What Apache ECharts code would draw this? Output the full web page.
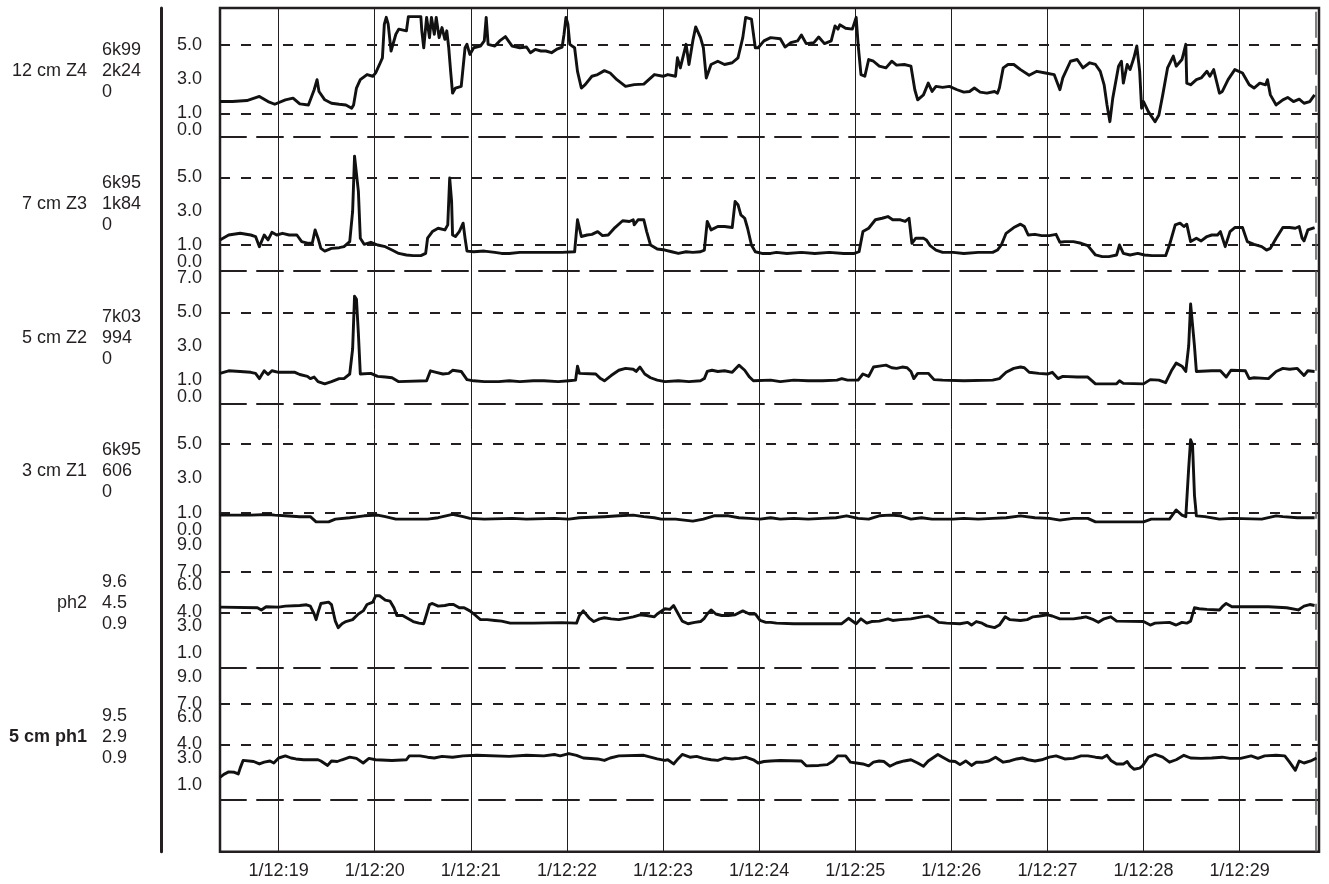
<!DOCTYPE html>
<html>
<head>
<meta charset="utf-8">
<script src="https://cdn.jsdelivr.net/npm/echarts@6/dist/echarts.min.js"></script>
<style>html,body{margin:0;padding:0;background:#fff}#chart{width:1329px;height:884px}</style>
</head>
<body>
<div id="chart"></div>
<script>
// ---------- DATA ----------
const timeTicks = [19, 20, 21, 22, 23, 24, 25, 26, 27, 28, 29];
const timeStart = 18.39, timeEnd = 29.826, recordEnd = 29.79;

const panelNames = ['12 cm Z4', '7 cm Z3', '5 cm Z2', '3 cm Z1', 'ph2', '5 cm ph1'];
const panelStats = [['6k99', '2k24', '0'], ['6k95', '1k84', '0'], ['7k03', '994', '0'],
                    ['6k95', '606', '0'], ['9.6', '4.5', '0.9'], ['9.5', '2.9', '0.9']];

const zTickLabels = [5, 3, 1, 0];
const z2TickLabels = [7, 5, 3, 1, 0];
const phTickLabels = [9, 7, 6, 4, 3, 1];
const zRefLines = [5, 1];
const z2RefLines = [5];
const phRefLines = [7, 4];

const z4Trace = [[18.39,1.69],[18.52,1.69],[18.67,1.75],[18.80,1.99],[18.89,1.69],[18.96,1.53],[19.07,1.79],[19.15,1.89],[19.22,1.55],[19.31,1.49],[19.37,2.38],[19.40,2.97],[19.42,2.28],[19.48,1.79],[19.55,1.59],[19.63,1.53],[19.70,1.49],[19.76,1.30],[19.78,1.49],[19.81,2.48],[19.85,2.97],[19.92,3.27],[19.98,3.17],[20.01,3.37],[20.05,3.86],[20.08,4.25],[20.10,6.22],[20.12,6.62],[20.14,6.22],[20.17,4.65],[20.22,5.63],[20.25,5.93],[20.33,5.83],[20.35,6.66],[20.48,6.66],[20.49,5.83],[20.51,4.84],[20.54,6.62],[20.57,5.43],[20.59,6.62],[20.62,5.63],[20.64,6.62],[20.67,5.43],[20.70,6.02],[20.73,5.33],[20.75,5.83],[20.77,4.84],[20.79,3.46],[20.81,2.18],[20.84,2.48],[20.90,2.58],[20.94,4.84],[20.96,5.04],[20.99,4.45],[21.03,4.84],[21.10,4.94],[21.14,5.24],[21.16,6.62],[21.18,5.04],[21.25,4.94],[21.30,5.24],[21.36,5.49],[21.43,4.94],[21.51,4.84],[21.58,4.88],[21.62,4.55],[21.67,4.74],[21.73,4.65],[21.78,4.65],[21.84,4.55],[21.89,4.74],[21.95,4.88],[21.97,5.63],[21.99,6.62],[22.01,6.22],[22.03,5.04],[22.08,4.84],[22.11,3.46],[22.15,2.48],[22.19,2.68],[22.26,3.17],[22.32,3.27],[22.39,3.50],[22.45,3.36],[22.52,2.97],[22.61,2.58],[22.70,2.68],[22.80,2.71],[22.91,3.27],[23.00,3.17],[23.05,3.27],[23.13,3.17],[23.15,4.25],[23.18,3.66],[23.24,5.04],[23.27,3.86],[23.31,5.24],[23.34,6.06],[23.39,5.43],[23.42,4.84],[23.45,3.07],[23.50,3.86],[23.57,4.05],[23.64,3.86],[23.72,3.96],[23.78,4.25],[23.83,5.43],[23.86,6.62],[23.92,6.52],[23.96,4.84],[23.99,4.84],[24.05,5.24],[24.12,5.43],[24.14,5.43],[24.22,5.37],[24.27,4.88],[24.33,5.14],[24.40,5.24],[24.44,5.59],[24.49,5.08],[24.57,5.14],[24.62,5.47],[24.68,5.08],[24.75,5.24],[24.79,6.12],[24.82,5.93],[24.84,6.18],[24.90,5.98],[24.97,5.93],[25.01,6.62],[25.03,5.04],[25.06,3.27],[25.10,3.17],[25.14,4.15],[25.19,4.05],[25.25,3.76],[25.32,3.66],[25.38,4.05],[25.43,3.82],[25.51,3.86],[25.58,3.76],[25.62,2.38],[25.65,1.79],[25.71,2.08],[25.76,2.77],[25.80,2.28],[25.84,2.58],[25.91,2.52],[25.98,2.58],[26.06,2.38],[26.13,2.24],[26.19,2.28],[26.24,2.48],[26.30,2.24],[26.37,2.18],[26.45,2.28],[26.48,2.18],[26.50,2.48],[26.54,3.66],[26.59,3.86],[26.65,3.86],[26.72,3.56],[26.81,3.23],[26.89,3.46],[26.98,3.36],[27.07,3.27],[27.13,2.38],[27.16,3.07],[27.24,4.05],[27.31,4.15],[27.37,3.66],[27.44,3.96],[27.50,3.86],[27.55,3.46],[27.59,2.67],[27.62,1.49],[27.65,0.51],[27.68,1.89],[27.74,3.76],[27.77,4.05],[27.79,2.77],[27.83,3.86],[27.86,3.56],[27.90,4.25],[27.93,4.94],[27.96,3.46],[27.98,1.30],[28.00,1.69],[28.05,1.10],[28.12,0.51],[28.16,0.90],[28.20,2.08],[28.25,3.66],[28.31,4.35],[28.34,3.76],[28.40,4.15],[28.44,5.04],[28.45,2.77],[28.49,2.67],[28.55,2.97],[28.60,3.07],[28.66,3.46],[28.69,3.17],[28.73,3.56],[28.79,2.18],[28.82,2.28],[28.88,2.97],[28.95,3.56],[29.03,3.36],[29.10,2.67],[29.15,2.48],[29.21,2.77],[29.27,2.67],[29.29,2.97],[29.32,2.08],[29.38,1.49],[29.45,1.79],[29.50,1.93],[29.56,1.69],[29.62,1.83],[29.67,1.59],[29.73,1.69],[29.78,2.08]];

const z3Trace = [[18.39,1.30],[18.48,1.59],[18.60,1.69],[18.71,1.59],[18.76,1.50],[18.80,0.90],[18.85,1.59],[18.89,1.30],[18.93,1.75],[18.98,1.59],[19.04,1.69],[19.11,1.59],[19.19,1.59],[19.24,1.20],[19.31,1.10],[19.35,1.10],[19.38,1.89],[19.41,1.40],[19.44,0.80],[19.48,0.64],[19.55,0.80],[19.63,0.84],[19.68,0.90],[19.74,1.20],[19.77,2.98],[19.79,6.25],[19.81,6.35],[19.83,4.17],[19.85,1.40],[19.89,1.04],[19.96,1.16],[20.03,1.00],[20.11,0.90],[20.18,0.70],[20.25,0.50],[20.33,0.41],[20.40,0.37],[20.48,0.37],[20.53,0.50],[20.55,1.40],[20.60,1.79],[20.66,1.99],[20.73,1.89],[20.76,2.19],[20.78,4.96],[20.80,3.57],[20.81,1.59],[20.84,1.50],[20.88,1.79],[20.92,2.29],[20.94,1.40],[20.96,0.64],[21.03,0.60],[21.14,0.64],[21.25,0.56],[21.32,0.50],[21.40,0.50],[21.51,0.56],[21.65,0.56],[21.80,0.56],[21.95,0.56],[22.08,0.60],[22.11,2.49],[22.15,1.50],[22.21,1.59],[22.26,1.63],[22.32,1.79],[22.37,1.55],[22.43,1.59],[22.50,2.03],[22.58,2.43],[22.65,2.39],[22.69,2.49],[22.70,2.19],[22.74,2.49],[22.80,2.49],[22.83,1.79],[22.87,1.00],[22.94,0.76],[23.02,0.70],[23.09,0.60],[23.16,0.50],[23.24,0.60],[23.31,0.56],[23.39,0.60],[23.43,0.70],[23.46,2.39],[23.50,1.89],[23.57,2.09],[23.64,2.09],[23.72,2.03],[23.75,3.57],[23.78,3.38],[23.81,2.78],[23.85,2.58],[23.88,1.99],[23.92,1.00],[23.96,0.60],[24.03,0.50],[24.12,0.50],[24.18,0.56],[24.29,0.50],[24.44,0.56],[24.58,0.50],[24.73,0.56],[24.88,0.50],[24.99,0.50],[25.04,0.60],[25.08,1.79],[25.14,1.99],[25.21,2.49],[25.28,2.58],[25.34,2.68],[25.39,2.49],[25.47,2.49],[25.52,2.39],[25.56,2.58],[25.59,1.10],[25.63,1.40],[25.71,1.40],[25.74,1.30],[25.78,0.96],[25.84,0.70],[25.91,0.56],[26.02,0.56],[26.13,0.50],[26.28,0.56],[26.43,0.56],[26.48,0.70],[26.52,1.00],[26.57,1.69],[26.65,2.03],[26.72,2.23],[26.76,2.09],[26.80,1.59],[26.87,1.63],[26.94,1.55],[27.02,1.55],[27.09,1.63],[27.13,1.16],[27.18,1.20],[27.27,1.20],[27.35,1.10],[27.42,0.96],[27.50,0.41],[27.57,0.31],[27.64,0.31],[27.72,0.41],[27.75,1.00],[27.79,0.50],[27.86,0.41],[27.94,0.50],[28.01,0.41],[28.09,0.37],[28.23,0.37],[28.27,1.00],[28.33,2.19],[28.38,2.29],[28.42,2.09],[28.45,2.23],[28.49,1.20],[28.55,1.40],[28.60,1.24],[28.66,1.50],[28.71,1.59],[28.77,1.59],[28.80,1.79],[28.85,0.90],[28.90,1.79],[28.95,2.03],[29.03,2.03],[29.08,1.20],[29.15,1.04],[29.23,0.90],[29.28,0.70],[29.32,0.80],[29.38,1.40],[29.45,2.03],[29.52,2.03],[29.58,1.99],[29.62,2.09],[29.65,1.40],[29.67,1.24],[29.71,1.89],[29.78,2.03]];

const z2Trace = [[18.39,1.41],[18.48,1.56],[18.60,1.52],[18.71,1.47],[18.76,1.41],[18.80,1.10],[18.85,1.56],[18.89,1.34],[18.93,1.56],[19.00,1.47],[19.17,1.47],[19.22,1.34],[19.30,1.23],[19.33,1.10],[19.37,1.19],[19.41,0.92],[19.48,0.79],[19.55,0.92],[19.63,1.10],[19.68,1.10],[19.74,1.37],[19.77,2.84],[19.79,5.95],[19.81,5.77],[19.83,3.75],[19.85,1.37],[19.96,1.41],[20.03,1.23],[20.11,1.19],[20.18,1.15],[20.25,0.92],[20.54,0.97],[20.58,1.56],[20.64,1.47],[20.71,1.37],[20.77,1.41],[20.81,1.59],[20.90,1.52],[20.92,1.41],[20.96,1.04],[21.03,0.97],[21.14,0.92],[21.29,0.92],[21.40,0.97],[21.51,0.92],[21.65,0.97],[21.76,0.97],[21.91,0.92],[22.02,0.97],[22.09,1.01],[22.11,1.83],[22.13,1.41],[22.30,1.37],[22.35,1.10],[22.39,0.97],[22.46,1.28],[22.54,1.59],[22.61,1.70],[22.69,1.65],[22.72,1.52],[22.76,1.78],[22.81,1.37],[22.87,1.15],[22.94,1.01],[23.02,0.92],[23.16,0.97],[23.27,0.92],[23.39,0.97],[23.43,1.10],[23.46,1.52],[23.51,1.59],[23.57,1.52],[23.64,1.56],[23.72,1.47],[23.79,1.89],[23.85,1.59],[23.90,1.19],[23.94,0.97],[24.12,1.01],[24.22,0.92],[24.36,1.01],[24.51,0.97],[24.66,0.97],[24.81,1.01],[24.86,1.10],[24.92,1.01],[25.03,1.01],[25.08,1.37],[25.14,1.23],[25.19,1.78],[25.25,1.83],[25.32,1.89],[25.38,1.74],[25.43,1.70],[25.49,1.78],[25.54,1.74],[25.58,1.52],[25.61,1.10],[25.65,1.41],[25.76,1.41],[25.82,1.04],[25.91,1.01],[26.13,0.97],[26.43,1.01],[26.50,1.10],[26.57,1.47],[26.65,1.70],[26.72,1.78],[26.76,1.74],[26.81,1.47],[26.91,1.41],[27.00,1.37],[27.05,1.47],[27.11,1.10],[27.16,1.23],[27.31,1.19],[27.42,1.19],[27.50,0.79],[27.72,0.79],[27.75,0.97],[27.79,0.82],[28.00,0.79],[28.07,1.04],[28.16,1.01],[28.23,0.86],[28.29,1.56],[28.34,2.01],[28.40,1.83],[28.44,1.52],[28.47,3.02],[28.49,5.49],[28.51,5.40],[28.53,3.02],[28.55,1.52],[28.71,1.56],[28.80,1.56],[28.86,1.19],[28.91,1.59],[29.06,1.56],[29.10,1.10],[29.15,1.15],[29.30,1.10],[29.38,1.52],[29.45,1.70],[29.52,1.65],[29.60,1.70],[29.67,1.28],[29.71,1.56],[29.78,1.52]];

const z1Trace = [[18.39,0.86],[18.71,0.86],[18.89,0.90],[18.96,0.86],[19.07,0.82],[19.22,0.77],[19.33,0.77],[19.39,0.47],[19.52,0.47],[19.59,0.63],[19.74,0.71],[19.89,0.82],[20.03,0.86],[20.11,0.77],[20.22,0.63],[20.55,0.63],[20.66,0.71],[20.81,0.90],[20.92,0.77],[20.99,0.67],[21.14,0.63],[21.43,0.67],[21.58,0.63],[21.87,0.67],[22.02,0.63],[22.13,0.71],[22.39,0.77],[22.54,0.82],[22.69,0.86],[22.80,0.77],[22.91,0.71],[22.98,0.63],[23.13,0.63],[23.31,0.51],[23.42,0.63],[23.53,0.82],[23.68,0.82],[23.79,0.71],[23.90,0.67],[24.01,0.63],[24.12,0.71],[24.22,0.63],[24.36,0.67],[24.51,0.63],[24.66,0.67],[24.80,0.71],[24.91,0.82],[25.03,0.67],[25.14,0.63],[25.25,0.82],[25.36,0.86],[25.47,0.82],[25.58,0.63],[25.69,0.71],[25.80,0.63],[26.02,0.63],[26.13,0.67],[26.28,0.63],[26.43,0.67],[26.57,0.71],[26.72,0.82],[26.87,0.71],[27.02,0.67],[27.13,0.57],[27.27,0.67],[27.42,0.67],[27.50,0.47],[28.00,0.47],[28.08,0.63],[28.27,0.63],[28.34,1.16],[28.40,0.86],[28.44,0.77],[28.47,3.60],[28.49,5.25],[28.51,4.96],[28.53,2.03],[28.55,0.82],[28.64,0.77],[28.79,0.63],[28.93,0.67],[29.23,0.63],[29.38,0.82],[29.45,0.77],[29.60,0.71],[29.78,0.71]];

const ph2Trace = [[18.39,4.40],[18.78,4.35],[18.82,4.19],[18.87,4.43],[19.00,4.40],[19.07,4.47],[19.22,4.52],[19.29,4.57],[19.33,4.47],[19.37,3.89],[19.39,3.47],[19.41,4.00],[19.44,4.67],[19.52,4.77],[19.55,4.59],[19.59,3.36],[19.62,2.88],[19.66,3.17],[19.70,3.33],[19.77,3.47],[19.83,3.89],[19.88,4.12],[19.92,4.59],[19.98,4.77],[20.01,5.24],[20.05,5.24],[20.11,4.92],[20.16,4.84],[20.20,4.35],[20.23,3.78],[20.29,3.78],[20.35,3.53],[20.40,3.33],[20.46,3.21],[20.51,3.17],[20.53,3.21],[20.57,4.59],[20.60,4.67],[20.66,4.47],[20.73,4.52],[20.77,4.59],[20.82,4.59],[20.88,4.35],[20.93,4.35],[20.99,4.12],[21.05,3.78],[21.10,3.47],[21.17,3.47],[21.25,3.41],[21.32,3.36],[21.41,3.21],[21.65,3.21],[21.95,3.25],[22.10,3.21],[22.13,3.78],[22.17,4.12],[22.23,3.61],[22.28,3.33],[22.34,3.53],[22.39,3.61],[22.46,3.53],[22.54,3.47],[22.61,3.57],[22.69,3.68],[22.76,3.83],[22.83,3.78],[22.91,3.68],[22.94,3.89],[23.02,4.28],[23.07,4.23],[23.11,4.52],[23.15,4.00],[23.20,3.36],[23.26,3.17],[23.33,3.27],[23.39,3.33],[23.43,3.57],[23.46,3.89],[23.50,4.19],[23.55,3.89],[23.61,3.78],[23.68,3.78],[23.75,3.83],[23.83,4.12],[23.90,3.89],[23.96,3.89],[24.01,3.41],[24.07,3.27],[24.12,3.27],[24.18,3.21],[24.36,3.17],[24.73,3.17],[24.86,3.17],[24.93,3.57],[25.01,3.17],[25.06,3.53],[25.12,3.21],[25.17,3.33],[25.25,3.36],[25.34,3.53],[25.39,3.41],[25.47,3.47],[25.58,3.53],[25.69,3.68],[25.76,3.74],[25.82,3.53],[25.87,3.27],[25.95,3.21],[26.09,3.17],[26.17,3.27],[26.21,3.07],[26.26,3.33],[26.32,3.21],[26.37,3.01],[26.45,2.88],[26.50,3.07],[26.56,3.68],[26.61,3.47],[26.72,3.41],[26.79,3.47],[26.85,3.68],[26.92,3.74],[27.00,3.83],[27.05,3.74],[27.13,3.53],[27.27,3.53],[27.35,3.61],[27.40,3.68],[27.48,3.47],[27.53,3.27],[27.59,3.53],[27.66,3.68],[27.72,3.36],[28.00,3.33],[28.07,3.07],[28.12,3.21],[28.27,3.27],[28.34,3.07],[28.40,3.27],[28.45,3.21],[28.49,3.36],[28.53,4.35],[28.58,4.28],[28.66,4.23],[28.79,4.19],[28.82,4.43],[28.86,4.67],[28.92,4.43],[29.30,4.43],[29.49,4.35],[29.61,4.19],[29.67,4.47],[29.73,4.59],[29.78,4.52]];

const ph1Trace = [[18.39,1.57],[18.43,1.79],[18.48,1.97],[18.54,1.94],[18.58,1.82],[18.60,2.25],[18.63,2.82],[18.74,2.74],[18.80,2.56],[18.85,2.69],[18.91,2.78],[18.95,2.63],[19.00,3.00],[19.07,3.16],[19.13,3.00],[19.18,2.93],[19.26,2.87],[19.41,2.87],[19.44,2.78],[19.51,2.45],[19.55,2.78],[19.61,2.74],[19.66,2.87],[19.74,3.06],[19.81,2.97],[19.88,2.63],[19.94,2.97],[20.01,2.87],[20.18,2.82],[20.33,2.87],[20.36,3.16],[20.47,3.16],[20.55,3.06],[20.62,3.00],[20.70,3.12],[20.81,3.06],[20.92,3.16],[21.06,3.20],[21.40,3.12],[21.58,3.20],[21.76,3.16],[21.87,3.26],[21.93,3.16],[22.02,3.33],[22.10,3.20],[22.17,3.00],[22.32,2.93],[22.39,2.82],[22.45,3.00],[22.54,3.16],[22.80,3.20],[22.87,3.06],[22.94,2.93],[23.02,2.82],[23.05,2.87],[23.11,2.56],[23.16,2.97],[23.20,3.26],[23.28,3.06],[23.35,3.12],[23.42,2.97],[23.50,2.87],[23.57,2.82],[23.64,3.00],[23.72,2.93],[23.79,2.97],[23.86,3.06],[23.94,2.87],[23.99,2.63],[24.05,2.74],[24.12,2.78],[24.22,2.82],[24.44,2.78],[24.49,2.42],[24.62,2.45],[24.71,2.51],[24.77,2.78],[24.82,3.16],[24.90,3.16],[24.95,2.69],[25.01,2.63],[25.08,2.56],[25.14,2.42],[25.19,2.69],[25.25,2.78],[25.30,2.74],[25.36,2.39],[25.43,2.63],[25.51,2.78],[25.58,2.87],[25.65,2.63],[25.71,2.39],[25.76,2.78],[25.86,3.26],[25.91,3.06],[25.98,2.78],[26.04,2.74],[26.09,2.51],[26.15,2.78],[26.21,2.45],[26.26,2.69],[26.33,2.69],[26.39,2.78],[26.46,3.06],[26.54,2.69],[26.61,2.78],[26.68,2.93],[26.74,3.00],[26.80,2.87],[26.87,2.78],[26.94,2.87],[27.02,3.06],[27.09,3.16],[27.18,2.93],[27.27,2.97],[27.35,3.16],[27.42,3.16],[27.50,3.06],[27.57,3.00],[27.62,3.20],[27.66,2.82],[27.72,2.56],[27.79,2.56],[27.83,2.74],[27.86,2.42],[27.90,2.17],[27.96,2.25],[27.99,2.42],[28.05,3.06],[28.12,3.26],[28.20,3.06],[28.27,2.69],[28.34,2.87],[28.42,3.20],[28.49,3.00],[28.60,2.97],[28.71,3.00],[28.82,3.06],[28.90,2.97],[29.01,2.97],[29.12,3.16],[29.19,2.97],[29.26,3.16],[29.38,3.20],[29.47,3.16],[29.52,2.69],[29.58,2.09],[29.62,2.78],[29.67,2.63],[29.74,2.78],[29.80,3.00]];

// ---------- LAYOUT / STYLE ----------
const FONT = '"Liberation Sans", Arial, Helvetica, sans-serif';
const INK = '#231f20';
const PLOT_LEFT = 220, PLOT_W = 1099, PLOT_TOP = 8, PLOT_BOTTOM = 851.7;
const SHORT_DASH = [10, 11], LONG_DASH = [26, 11];

const panels = [
  { top: 8,     bottom: 136.7, min: -0.369, max: 7.167, data: z4Trace,  labels: zTickLabels,  lines: zRefLines,  sep: true,  cy: 71 },
  { top: 136.7, bottom: 270.7, min: -0.52,  max: 7.399, data: z3Trace,  labels: zTickLabels,  lines: zRefLines,  sep: true,  cy: 204 },
  { top: 270.7, bottom: 403.3, min: -0.353, max: 7.447, data: z2Trace,  labels: z2TickLabels, lines: z2RefLines, sep: true,  cy: 338 },
  { top: 403.3, bottom: 537,   min: -0.413, max: 7.37,  data: z1Trace,  labels: zTickLabels,  lines: zRefLines,  sep: false, cy: 471 },
  { top: 537,   bottom: 667.7, min: -0.089, max: 9.593, data: ph2Trace, labels: phTickLabels, lines: phRefLines, sep: true,  cy: 603 },
  { top: 667.7, bottom: 800,   min: -0.111, max: 9.689, data: ph1Trace, labels: phTickLabels, lines: phRefLines, sep: true,  cy: 737.5 }
];

const labelStyle = {
  formatter: v => Number(v).toFixed(1),
  showMinLabel: true, showMaxLabel: true, hideOverlap: false,
  fontFamily: FONT, fontSize: 18, color: INK, margin: 18
};

const grids = [], xAxes = [], yAxes = [], series = [], graphics = [];
panels.forEach((p, i) => {
  grids.push({ left: PLOT_LEFT, width: PLOT_W, top: p.top, height: p.bottom - p.top, containLabel: false });
  xAxes.push({
    gridIndex: i, type: 'value', min: timeStart, max: timeEnd,
    axisLine: { show: p.sep, onZero: false, lineStyle: { color: INK, width: 2, type: LONG_DASH } },
    axisTick: { show: false }, axisLabel: { show: false }, splitLine: { show: false }
  });
  // tick labels are split over two co-located axes so that close labels are never auto-hidden
  const labA = p.labels.filter((v, k) => k % 2 === 0);
  const labB = p.labels.filter((v, k) => k % 2 === 1);
  const mainIdx = yAxes.length;
  yAxes.push({
    gridIndex: i, type: 'value', min: p.min, max: p.max, position: 'left',
    axisLine: { show: false },
    axisTick: { show: false, customValues: p.lines },
    splitLine: { show: true, lineStyle: { color: INK, width: 2, type: SHORT_DASH } },
    axisLabel: Object.assign({ customValues: labA }, labelStyle)
  });
  yAxes.push({
    gridIndex: i, type: 'value', min: p.min, max: p.max, position: 'left',
    axisLine: { show: false }, axisTick: { show: false }, splitLine: { show: false },
    axisLabel: Object.assign({ customValues: labB }, labelStyle)
  });
  series.push({
    type: 'line', xAxisIndex: i, yAxisIndex: mainIdx, data: p.data,
    symbol: 'none', showSymbol: false, z: 5,
    lineStyle: { color: '#111', width: 2.9, join: 'round' }
  });
  graphics.push({
    type: 'text', x: 87, y: p.cy, z: 10,
    style: { text: panelNames[i], fontFamily: FONT, fontSize: 18,
             fontWeight: i === 5 ? 'bold' : 'normal', fill: INK, align: 'right', verticalAlign: 'middle' }
  });
  graphics.push({
    type: 'text', x: 102, y: p.cy, z: 10,
    style: { text: panelStats[i].join('\n'), fontFamily: FONT, fontSize: 18, lineHeight: 21,
             fill: INK, align: 'left', verticalAlign: 'middle' }
  });
});

// frame grid with time axis and vertical minute lines
const F = panels.length;
grids.push({ left: PLOT_LEFT, width: PLOT_W, top: PLOT_TOP, height: PLOT_BOTTOM - PLOT_TOP,
             show: true, borderColor: INK, borderWidth: 2.5, backgroundColor: 'transparent' });
xAxes.push({
  gridIndex: F, type: 'value', min: timeStart, max: timeEnd,
  axisLine: { show: false }, axisTick: { show: false, customValues: timeTicks },
  axisLabel: { customValues: timeTicks, formatter: v => '1/12:' + v, fontFamily: FONT, fontSize: 18, color: INK, margin: 10 },
  splitLine: { show: true, lineStyle: { color: INK, width: 1 } }
});
const frameY = yAxes.length;
yAxes.push({
  gridIndex: F, type: 'value', min: 0, max: 1, offset: 59,
  axisLine: { show: true, onZero: false, lineStyle: { color: INK, width: 3 } },
  axisTick: { show: false }, axisLabel: { show: false }, splitLine: { show: false }
});
series.push({
  type: 'line', xAxisIndex: F, yAxisIndex: frameY, data: [], symbol: 'none',
  markLine: { silent: true, symbol: 'none', label: { show: false },
              lineStyle: { color: '#555', width: 1.5, type: LONG_DASH },
              data: [{ xAxis: recordEnd }] }
});

const chart = echarts.init(document.getElementById('chart'), null, { renderer: 'canvas' });
chart.setOption({
  animation: false,
  backgroundColor: '#fff',
  grid: grids, xAxis: xAxes, yAxis: yAxes, series: series, graphic: graphics
});
</script>
</body>
</html>
